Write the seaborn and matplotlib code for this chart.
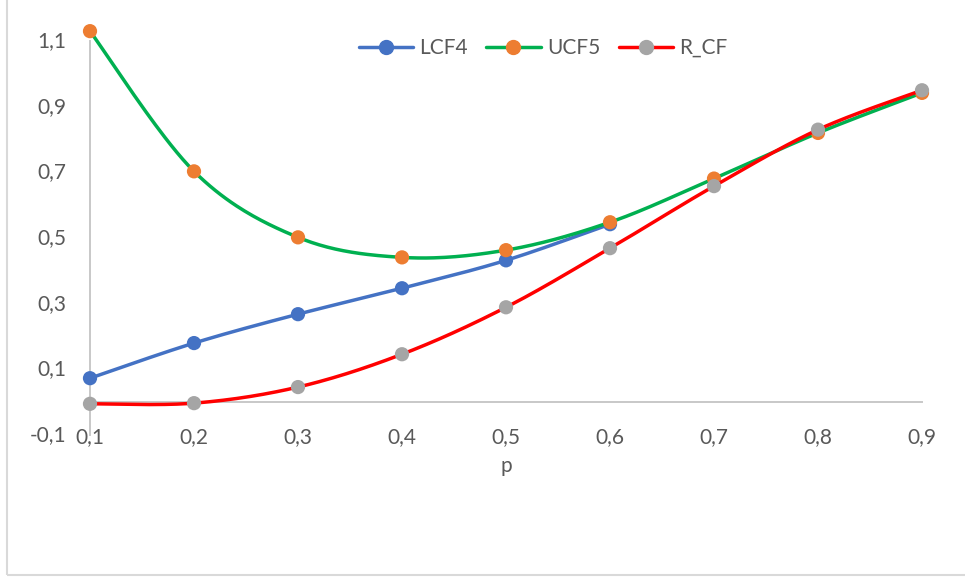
import numpy as np
import pandas as pd
import matplotlib
matplotlib.use("Agg")
import matplotlib.pyplot as plt
from matplotlib.lines import Line2D
from matplotlib.patches import Rectangle
import seaborn as sns

# Series values
p_values = [0.1, 0.2, 0.3, 0.4, 0.5, 0.6, 0.7, 0.8, 0.9]
lcf4 = [0.073, 0.180, 0.268, 0.347, 0.432, 0.542]
ucf5 = [1.130, 0.703, 0.502, 0.441, 0.463, 0.548, 0.681, 0.820, 0.942]
r_cf = [-0.005, -0.003, 0.046, 0.146, 0.289, 0.469, 0.658, 0.830, 0.950]

series_names = ["LCF4", "UCF5", "R_CF"]
line_colors = ["#4472C4", "#00B050", "#FF0000"]
marker_colors = ["#4472C4", "#ED7D31", "#A5A5A5"]

x_ticks = [0.1, 0.2, 0.3, 0.4, 0.5, 0.6, 0.7, 0.8, 0.9]
x_tick_labels = ["0,1", "0,2", "0,3", "0,4", "0,5", "0,6", "0,7", "0,8", "0,9"]
y_ticks = [-0.1, 0.1, 0.3, 0.5, 0.7, 0.9, 1.1]
y_tick_labels = ["-0,1", "0,1", "0,3", "0,5", "0,7", "0,9", "1,1"]


def smooth_curve(x, y, n=40):
    """Bezier smoothing through every point (spreadsheet-style smoothed line)."""
    pts = np.column_stack([x, y]).astype(float)
    ext = np.vstack([pts[0], pts, pts[-1]])
    t = np.linspace(0, 1, n)[:, None]
    parts = []
    for i in range(len(pts) - 1):
        p0, p1, p2, p3 = ext[i], ext[i + 1], ext[i + 2], ext[i + 3]
        c1 = p1 + (p2 - p0) / 6.0
        c2 = p2 - (p3 - p1) / 6.0
        seg = ((1 - t) ** 3) * p1 + 3 * ((1 - t) ** 2) * t * c1 \
            + 3 * (1 - t) * t ** 2 * c2 + t ** 3 * p2
        parts.append(seg if i == 0 else seg[1:])
    out = np.vstack(parts)
    return out[:, 0], out[:, 1]


sns.set_theme(style="white")
plt.rcParams["font.family"] = ["Lato", "DejaVu Sans"]

fig = plt.figure(figsize=(9.65, 5.78), dpi=100)
ax = fig.add_axes([90 / 965, 1 - 435 / 578, (922 - 90) / 965, (435 - 41) / 578])

data = [lcf4, ucf5, r_cf]
for k, (name, vals) in enumerate(zip(series_names, data)):
    xs = p_values[:len(vals)]
    sx, sy = smooth_curve(xs, vals)
    curve = pd.DataFrame({"p": sx, "v": sy})
    n_before = len(ax.lines)
    sns.lineplot(data=curve, x="p", y="v", sort=False, estimator=None,
                 color=line_colors[k], linewidth=2.5, ax=ax, legend=False)
    for ln in ax.lines[n_before:]:
        ln.set_clip_on(False)
        ln.set_zorder(3 + 2 * k)
        ln.set_solid_capstyle("round")
    pts = pd.DataFrame({"p": xs, "v": vals})
    n_coll = len(ax.collections)
    sns.scatterplot(data=pts, x="p", y="v", color=marker_colors[k], s=105,
                    edgecolor="none", linewidth=0, ax=ax, legend=False)
    for c in ax.collections[n_coll:]:
        c.set_clip_on(False)
        c.set_zorder(4 + 2 * k)

ax.set_xlim(0.1, 0.9)
ax.set_ylim(-0.1, 1.1)
ax.set_xticks(x_ticks, x_tick_labels)
ax.set_yticks(y_ticks, y_tick_labels)

axis_grey = "#C8C8C8"
text_grey = "#595959"
for side in ["top", "right"]:
    ax.spines[side].set_visible(False)
ax.spines["bottom"].set_position(("data", 0))
ax.spines["bottom"].set_color(axis_grey)
ax.spines["bottom"].set_linewidth(1.4)
ax.spines["left"].set_color(axis_grey)
ax.spines["left"].set_linewidth(1.4)
ax.spines["left"].set_zorder(1)
ax.spines["bottom"].set_zorder(1)
ax.tick_params(axis="x", length=0, pad=18, labelsize=15, labelcolor=text_grey)
ax.tick_params(axis="y", length=0, pad=17, labelsize=15, labelcolor=text_grey)
for lbl in ax.get_yticklabels():
    lbl.set_verticalalignment("center")

ax.set_xlabel("")
ax.set_ylabel("")
fig.text(506 / 965, 1 - 466 / 578, "p", ha="center", va="center",
         fontsize=15, color=text_grey)

handles = [Line2D([0], [0], color=line_colors[k], lw=2.5, marker="o",
                  markersize=10, markerfacecolor=marker_colors[k],
                  markeredgecolor=marker_colors[k])
           for k in range(3)]
fig.legend(handles, series_names, loc="center",
           bbox_to_anchor=(543 / 965, 1 - 48 / 578), ncol=3, frameon=False,
           fontsize=15, handlelength=2.6, handletextpad=0.3, columnspacing=0.9,
           labelcolor=text_grey)

# outer chart border
fig.patches.append(Rectangle((7 / 965, 3 / 578), 1.2, 1.0, transform=fig.transFigure,
                             fill=False, edgecolor="#D9D9D9", linewidth=1.5,
                             figure=fig))

fig.savefig("out.png", dpi=100)
